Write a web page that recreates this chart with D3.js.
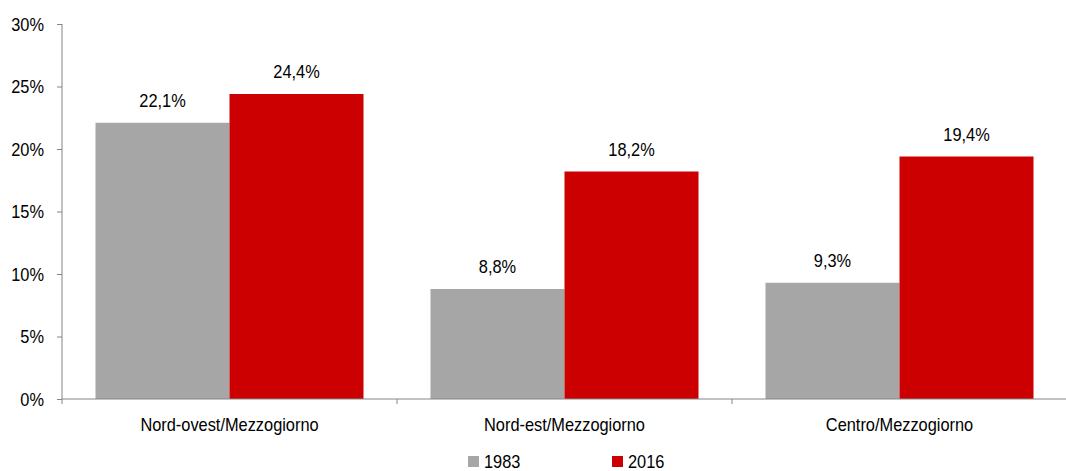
<!DOCTYPE html>
<html>
<head>
<meta charset="utf-8">
<script src="https://cdn.jsdelivr.net/npm/d3@7"></script>
<style>
  body { margin: 0; background: #fff; }
  svg text { font-family: "Liberation Sans", Arial, sans-serif; fill: #000; }
</style>
</head>
<body>
<div id="container"></div>
<script>
// chart size
let w = 1066;
let h = 471;

// data
let categories = ["Nord-ovest/Mezzogiorno", "Nord-est/Mezzogiorno", "Centro/Mezzogiorno"];
let seriesNames = ["1983", "2016"];
let values1983 = [22.1, 8.8, 9.3];
let values2016 = [24.4, 18.2, 19.4];
let yTicks = [0, 5, 10, 15, 20, 25, 30];
let colors = ["#A6A6A6", "#CC0000"];

// text looks narrow in the original, squeeze it a bit
let fontSize = "18px";
let squeeze = 0.91;
let place = function(x, y) { return "translate(" + x + "," + y + ") scale(" + squeeze + ",1)"; };

let margin = { top: 24, right: -1, bottom: 72, left: 62 };
let innerW = w - margin.left - margin.right;
let innerH = h - margin.top - margin.bottom;

let svg = d3.select("#container")
  .append("svg")
  .attr("width", w)
  .attr("height", h);

let g = svg.append("g")
  .attr("transform", "translate(" + margin.left + "," + margin.top + ")");

// scales
let x0 = d3.scaleBand().domain(categories).range([0, innerW]).paddingInner(0).paddingOuter(0);
let x1 = d3.scaleBand().domain(seriesNames).range([0, x0.bandwidth()]).paddingInner(0).paddingOuter(0.25);
let y = d3.scaleLinear().domain([0, 30]).range([innerH, 0]);

let fmt = function(v) { return v.toFixed(1).replace(".", ",") + "%"; };

// bars
let rows = categories.map(function(c, i) {
  return { cat: c, vals: [values1983[i], values2016[i]] };
});

let groups = g.selectAll(".grp")
  .data(rows)
  .enter()
  .append("g")
  .attr("transform", function(d) { return "translate(" + x0(d.cat) + ",0)"; });

groups.selectAll("rect")
  .data(function(d) { return d.vals.map(function(v, k) { return { s: seriesNames[k], v: v, k: k }; }); })
  .enter()
  .append("rect")
  .attr("x", function(d) { return x1(d.s); })
  .attr("y", function(d) { return y(d.v); })
  .attr("width", x1.bandwidth())
  .attr("height", function(d) { return innerH - y(d.v); })
  .style("fill", function(d) { return colors[d.k]; });

groups.selectAll("text.lbl")
  .data(function(d) { return d.vals.map(function(v, k) { return { s: seriesNames[k], v: v }; }); })
  .enter()
  .append("text")
  .attr("class", "lbl")
  .attr("transform", function(d) { return place(x1(d.s) + x1.bandwidth() / 2, y(d.v) - 16); })
  .attr("text-anchor", "middle")
  .style("font-size", fontSize)
  .text(function(d) { return fmt(d.v); });

// y axis
let yAxis = g.append("g")
  .call(d3.axisLeft(y).tickValues(yTicks).tickSize(5).tickPadding(13).tickFormat(function(d) { return d + "%"; }));
yAxis.selectAll("text")
  .style("font-size", fontSize)
  .attr("dy", "0.35em")
  .attr("transform", function() { return place(+d3.select(this).attr("x"), 0); })
  .attr("x", 0);
yAxis.selectAll("line").attr("stroke", "#868686");
yAxis.select(".domain").attr("stroke", "#868686").attr("d", "M0," + innerH + "V0");

// x axis
let xAxis = g.append("g")
  .attr("transform", "translate(0," + innerH + ")");
xAxis.append("line")
  .attr("x1", 0).attr("x2", innerW)
  .attr("stroke", "#868686");
xAxis.selectAll("line.tk")
  .data(categories)
  .enter()
  .append("line")
  .attr("class", "tk")
  .attr("x1", function(d) { return x0(d); })
  .attr("x2", function(d) { return x0(d); })
  .attr("y1", 0).attr("y2", 5)
  .attr("stroke", "#868686");
xAxis.selectAll("text")
  .data(categories)
  .enter()
  .append("text")
  .attr("transform", function(d) { return place(x0(d) + x0.bandwidth() / 2, 32); })
  .attr("text-anchor", "middle")
  .style("font-size", fontSize)
  .text(function(d) { return d; });

// legend
let legendX = [468, 612];
let legend = svg.selectAll(".leg")
  .data(seriesNames)
  .enter()
  .append("g")
  .attr("transform", function(d, i) { return "translate(" + legendX[i] + ",456)"; });
legend.append("rect")
  .attr("width", 11).attr("height", 11)
  .style("fill", function(d, i) { return colors[i]; });
legend.append("text")
  .attr("transform", place(16, 12))
  .style("font-size", fontSize)
  .text(function(d) { return d; });
</script>
</body>
</html>
